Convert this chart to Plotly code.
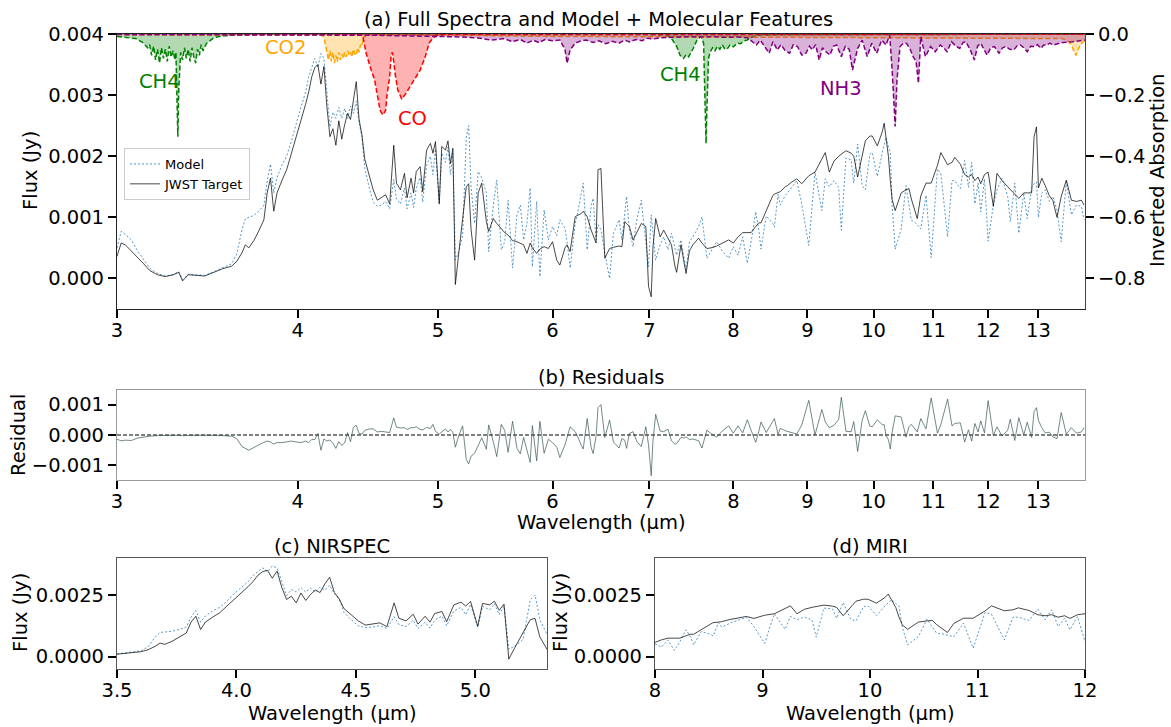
import math
import numpy as np
import plotly.graph_objects as go

# ---------------- data ----------------
wavelength = [
    3.00, 3.02, 3.04, 3.07, 3.10, 3.13, 3.16, 3.20, 3.24, 3.28,
    3.31, 3.33, 3.36, 3.40, 3.45, 3.50, 3.55, 3.60, 3.63, 3.66,
    3.68, 3.70, 3.73, 3.76, 3.79, 3.81, 3.83, 3.85, 3.87, 3.90,
    3.93, 3.96, 3.99, 4.02, 4.05, 4.07, 4.09, 4.11, 4.13, 4.15,
    4.17, 4.19, 4.21, 4.23, 4.25, 4.27, 4.29, 4.31, 4.33, 4.35,
    4.37, 4.39, 4.41, 4.43, 4.45, 4.48, 4.51, 4.54, 4.57, 4.60,
    4.63, 4.66, 4.68, 4.71, 4.74, 4.76, 4.79, 4.81, 4.83, 4.86,
    4.88, 4.91, 4.94, 4.96, 4.98, 5.01, 5.03, 5.06, 5.08, 5.10,
    5.12, 5.14, 5.17, 5.20, 5.23, 5.25, 5.27, 5.30,
    5.33, 5.36, 5.40, 5.42, 5.46, 5.49, 5.53, 5.56, 5.59, 5.63,
    5.67, 5.70, 5.73, 5.76, 5.79, 5.81, 5.85, 5.88, 5.92, 5.96,
    6.00, 6.04, 6.07, 6.12, 6.14, 6.17, 6.22, 6.24, 6.28, 6.30,
    6.34, 6.38, 6.40, 6.43, 6.45, 6.48, 6.52, 6.57, 6.61, 6.67,
    6.70, 6.73, 6.75, 6.78, 6.82, 6.86, 6.91, 6.96, 6.99, 7.02,
    7.04, 7.07, 7.12, 7.16, 7.21, 7.25, 7.29, 7.31, 7.36, 7.40,
    7.42, 7.46, 7.50, 7.57, 7.61, 7.67, 7.72, 7.79, 7.86, 7.94,
    8.00, 8.06, 8.12, 8.18, 8.23, 8.29, 8.33, 8.36, 8.43, 8.52,
    8.54, 8.59, 8.62, 8.69, 8.72, 8.77, 8.85, 8.92, 9.02, 9.11,
    9.21, 9.26, 9.32, 9.39, 9.46, 9.50, 9.57, 9.65, 9.69, 9.75,
    9.82, 9.87, 9.94, 9.98, 10.06, 10.14, 10.17, 10.20, 10.24, 10.27,
    10.30, 10.35, 10.45, 10.53, 10.58, 10.62, 10.68, 10.72, 10.78, 10.87,
    10.96, 11.07, 11.13, 11.25, 11.33, 11.38, 11.48, 11.56, 11.63, 11.69,
    11.75, 11.81, 11.86, 11.93, 12.00, 12.10, 12.17, 12.27, 12.38, 12.43,
    12.52, 12.60, 12.70, 12.77, 12.86, 12.91, 12.96, 13.00, 13.07, 13.14,
    13.23, 13.30, 13.39, 13.48, 13.59, 13.70, 13.81, 13.92, 13.98,
]

flux_target = [
    0.00036, 0.00058, 0.00055, 0.00045, 0.00035, 0.00024, 0.00013, 0.00006, 0.00003, 0.00006,
    0.00010, -0.00004, 0.00006, 0.00005, 0.00004, 0.00010, 0.00016, 0.00020, 0.00028, 0.00042,
    0.00055, 0.00050, 0.00062, 0.00078, 0.00096, 0.00140, 0.00164, 0.00110, 0.00140, 0.00160,
    0.00178, 0.00205, 0.00232, 0.00255, 0.00285, 0.00305, 0.00330, 0.00345, 0.00350, 0.00318,
    0.00347, 0.00280, 0.00232, 0.00245, 0.00218, 0.00258, 0.00228, 0.00252, 0.00270, 0.00260,
    0.00295, 0.00322, 0.00260, 0.00235, 0.00195, 0.00170, 0.00145, 0.00128, 0.00132, 0.00137,
    0.00122, 0.00218, 0.00156, 0.00145, 0.00172, 0.00132, 0.00164, 0.00140, 0.00175, 0.00183,
    0.00142, 0.00210, 0.00221, 0.00205, 0.00224, 0.00123, 0.00216, 0.00210, 0.00225, 0.00188,
    0.00213, -0.00010, 0.00045, 0.00100, 0.00150, 0.00155, 0.00080, 0.00030,
    0.00140, 0.00156, 0.00093, 0.00077, 0.00098, 0.00090, 0.00082, 0.00075, 0.00071, 0.00062,
    0.00060, 0.00058, 0.00055, 0.00041, 0.00058, 0.00050, 0.00041, 0.00048, 0.00052, 0.00049,
    0.00060, 0.00030, 0.00022, 0.00050, 0.00055, 0.00044, 0.00101, 0.00103, 0.00106, 0.00110,
    0.00101, 0.00079, 0.00070, 0.00058, 0.00178, 0.00180, 0.00033, 0.00049, 0.00051, 0.00053,
    0.00052, 0.00093, 0.00090, 0.00085, 0.00063, 0.00075, 0.00090, 0.00085, -0.00013, -0.00030,
    0.00052, 0.00098, 0.00068, 0.00079, 0.00066, 0.00055, 0.00020, 0.00010, 0.00055, 0.00020,
    0.00008, 0.00045, 0.00055, 0.00066, 0.00058, 0.00049, 0.00050, 0.00053, 0.00058, 0.00063,
    0.00058, 0.00068, 0.00075, 0.00075, 0.00075, 0.00085, 0.00091, 0.00091, 0.00110, 0.00136,
    0.00138, 0.00140, 0.00142, 0.00150, 0.00152, 0.00157, 0.00163, 0.00155, 0.00168, 0.00174,
    0.00195, 0.00206, 0.00174, 0.00192, 0.00200, 0.00203, 0.00209, 0.00205, 0.00200, 0.00166,
    0.00200, 0.00225, 0.00233, 0.00233, 0.00217, 0.00240, 0.00254, 0.00230, 0.00199, 0.00160,
    0.00129, 0.00111, 0.00140, 0.00145, 0.00147, 0.00130, 0.00110, 0.00098, 0.00135, 0.00156,
    0.00156, 0.00185, 0.00206, 0.00186, 0.00190, 0.00198, 0.00187, 0.00170, 0.00166, 0.00170,
    0.00160, 0.00166, 0.00155, 0.00170, 0.00174, 0.00118, 0.00172, 0.00160, 0.00150, 0.00145,
    0.00138, 0.00131, 0.00140, 0.00140, 0.00140, 0.00232, 0.00248, 0.00148, 0.00164, 0.00152,
    0.00135, 0.00128, 0.00100, 0.00134, 0.00161, 0.00128, 0.00126, 0.00128, 0.00120,
]

flux_model = [
    0.00050, 0.00077, 0.00072, 0.00063, 0.00045, 0.00030, 0.00017, 0.00008, 0.00004, 0.00006,
    0.00011, -0.00002, 0.00007, 0.00006, 0.00005, 0.00011, 0.00018, 0.00024, 0.00040, 0.00080,
    0.00098, 0.00100, 0.00103, 0.00110, 0.00120, 0.00160, 0.00187, 0.00140, 0.00165, 0.00185,
    0.00200, 0.00225, 0.00255, 0.00280, 0.00305, 0.00330, 0.00345, 0.00360, 0.00345, 0.00368,
    0.00360, 0.00300, 0.00248, 0.00272, 0.00262, 0.00280, 0.00262, 0.00278, 0.00262, 0.00282,
    0.00270, 0.00290, 0.00255, 0.00232, 0.00180, 0.00150, 0.00125, 0.00118, 0.00120, 0.00126,
    0.00114, 0.00162, 0.00130, 0.00122, 0.00148, 0.00114, 0.00140, 0.00116, 0.00148, 0.00165,
    0.00125, 0.00185, 0.00200, 0.00170, 0.00212, 0.00120, 0.00205, 0.00190, 0.00215, 0.00170,
    0.00205, 0.00030, 0.00045, 0.00070, 0.00230, 0.00250, 0.00150, 0.00090,
    0.00175, 0.00165, 0.00140, 0.00044, 0.00120, 0.00161, 0.00047, 0.00060, 0.00128, 0.00017,
    0.00104, 0.00120, 0.00063, 0.00090, 0.00148, 0.00019, 0.00126, 0.00003, 0.00112, 0.00063,
    0.00085, 0.00070, 0.00096, 0.00082, 0.00060, 0.00017, 0.00090, 0.00104, 0.00140, 0.00156,
    0.00047, 0.00120, 0.00131, 0.00063, 0.00088, 0.00080, 0.00041, 0.00000, 0.00074, 0.00096,
    0.00063, 0.00110, 0.00134, 0.00080, 0.00052, 0.00096, 0.00128, 0.00058, 0.00019, 0.00104,
    0.00070, 0.00030, 0.00055, 0.00068, 0.00047, 0.00074, 0.00050, 0.00038, 0.00063, 0.00030,
    0.00014, 0.00060, 0.00068, 0.00085, 0.00101, 0.00033, 0.00045, 0.00060, 0.00045, 0.00033,
    0.00052, 0.00038, 0.00068, 0.00025, 0.00060, 0.00109, 0.00080, 0.00048, 0.00102, 0.00090,
    0.00084, 0.00138, 0.00120, 0.00136, 0.00140, 0.00147, 0.00160, 0.00122, 0.00054, 0.00174,
    0.00111, 0.00163, 0.00150, 0.00160, 0.00149, 0.00079, 0.00197, 0.00194, 0.00156, 0.00220,
    0.00152, 0.00145, 0.00203, 0.00206, 0.00167, 0.00206, 0.00220, 0.00231, 0.00215, 0.00206,
    0.00120, 0.00048, 0.00081, 0.00152, 0.00120, 0.00095, 0.00092, 0.00088, 0.00081, 0.00136,
    0.00034, 0.00179, 0.00172, 0.00068, 0.00160, 0.00160, 0.00147, 0.00193, 0.00149, 0.00190,
    0.00122, 0.00156, 0.00109, 0.00163, 0.00061, 0.00120, 0.00145, 0.00164, 0.00134, 0.00093,
    0.00156, 0.00074, 0.00140, 0.00098, 0.00148, 0.00155, 0.00158, 0.00100, 0.00140, 0.00145,
    0.00126, 0.00134, 0.00112, 0.00060, 0.00158, 0.00104, 0.00120, 0.00118, 0.00096,
]

# Molecular features (inverted absorption, right axis)
ch4_wl = [3.00, 3.03, 3.06, 3.09, 3.11, 3.13, 3.15, 3.16, 3.17, 3.18,
          3.19, 3.20, 3.21, 3.22, 3.23, 3.24, 3.25, 3.26, 3.27, 3.28,
          3.29, 3.295, 3.30, 3.305, 3.31, 3.32, 3.33, 3.34, 3.35, 3.36,
          3.37, 3.38, 3.39, 3.40, 3.41, 3.42, 3.43, 3.44, 3.46, 3.48,
          3.50, 3.53, 3.57, 3.62, 3.70, 4.00, 5.00, 6.00, 7.00, 7.20,
          7.25, 7.31, 7.35, 7.39, 7.42, 7.45, 7.50, 7.55, 7.60, 7.63,
          7.65, 7.66, 7.67, 7.69, 7.71, 7.74, 7.77, 7.80, 7.83, 7.86,
          7.89, 7.92, 7.96, 8.00, 8.05, 8.09, 8.14, 8.18, 8.22, 8.26,
          8.35, 9.00, 10.0, 12.0, 14.0]
ch4_abs = [-0.008, -0.010, -0.012, -0.015, -0.022, -0.030, -0.045, -0.035, -0.070, -0.040,
           -0.085, -0.050, -0.095, -0.045, -0.080, -0.050, -0.090, -0.040, -0.075, -0.055,
           -0.085, -0.060, -0.200, -0.336, -0.180, -0.060, -0.085, -0.045, -0.080, -0.050,
           -0.090, -0.045, -0.075, -0.095, -0.050, -0.070, -0.035, -0.055, -0.030, -0.020,
           -0.012, -0.008, -0.005, -0.003, -0.002, -0.001, -0.001, -0.001, -0.002, -0.004,
           -0.015, -0.040, -0.070, -0.080, -0.068, -0.075, -0.050, -0.020, -0.008, -0.030,
           -0.200, -0.358, -0.250, -0.080, -0.060, -0.045, -0.055, -0.040, -0.050, -0.035,
           -0.048, -0.050, -0.035, -0.042, -0.030, -0.032, -0.022, -0.020, -0.012, -0.008,
           -0.003, -0.002, -0.002, -0.001, -0.001]

co2_wl = [3.00, 4.00, 4.15, 4.17, 4.18, 4.19, 4.20, 4.21, 4.22, 4.23,
          4.24, 4.25, 4.26, 4.27, 4.28, 4.29, 4.30, 4.31, 4.32, 4.33,
          4.34, 4.35, 4.36, 4.37, 4.38, 4.39, 4.40, 4.41, 4.42, 4.43,
          4.44, 4.46, 5.00, 5.50, 6.00, 8.00, 10.0, 12.0, 13.0, 13.5,
          13.6, 13.7, 13.75, 13.8, 13.85, 13.9, 14.0]
co2_abs = [-0.002, -0.002, -0.003, -0.010, -0.040, -0.065, -0.085, -0.055, -0.090, -0.060,
           -0.095, -0.070, -0.090, -0.060, -0.085, -0.065, -0.080, -0.060, -0.075, -0.055,
           -0.070, -0.060, -0.075, -0.050, -0.065, -0.070, -0.045, -0.060, -0.035, -0.040,
           -0.015, -0.003, -0.003, -0.006, -0.008, -0.010, -0.012, -0.013, -0.014, -0.015,
           -0.020, -0.035, -0.055, -0.070, -0.050, -0.035, -0.020]

co_wl = [3.00, 4.00, 4.40, 4.435, 4.46, 4.49, 4.52, 4.54, 4.56, 4.58,
         4.60, 4.61, 4.63, 4.64, 4.65, 4.66, 4.67, 4.69, 4.72, 4.75,
         4.78, 4.82, 4.86, 4.90, 4.93, 4.96, 4.99, 5.05, 6.00, 8.00,
         10.0, 14.0]
co_abs = [-0.001, -0.001, -0.002, -0.005, -0.063, -0.110, -0.150, -0.200, -0.250, -0.265,
          -0.250, -0.200, -0.140, -0.074, -0.060, -0.090, -0.130, -0.183, -0.213, -0.195,
          -0.174, -0.150, -0.118, -0.074, -0.030, -0.013, -0.005, -0.002, -0.002, -0.003,
          -0.002, -0.001]

nh3_wl = [3.00, 4.00, 4.50, 5.00, 5.20, 5.35, 5.45, 5.55, 5.63, 5.70,
          5.76, 5.82, 5.87, 5.93, 6.00, 6.07, 6.12, 6.14, 6.17, 6.22,
          6.28, 6.33, 6.40, 6.46, 6.53, 6.60, 6.67, 6.73, 6.78, 6.85,
          6.92, 6.97, 7.05, 7.12, 7.19, 7.30, 7.45, 7.60, 7.75, 7.90,
          8.05, 8.18, 8.24, 8.30, 8.35, 8.41, 8.47, 8.52, 8.58, 8.63,
          8.69, 8.75, 8.80, 8.86, 8.92, 8.98, 9.03, 9.07, 9.12, 9.17,
          9.22, 9.27, 9.33, 9.38, 9.43, 9.50, 9.56, 9.62, 9.67, 9.75,
          9.82, 9.90, 9.97, 10.05, 10.13, 10.20, 10.26, 10.30, 10.35, 10.38,
          10.43, 10.49, 10.54, 10.60, 10.65, 10.70, 10.74, 10.78, 10.86, 10.95,
          11.03, 11.12, 11.18, 11.24, 11.32, 11.40, 11.47, 11.53, 11.58, 11.66,
          11.74, 11.80, 11.86, 11.92, 11.98, 12.05, 12.12, 12.21, 12.28, 12.34,
          12.42, 12.50, 12.57, 12.63, 12.70, 12.77, 12.84, 12.91, 12.98, 13.05,
          13.11, 13.17, 13.24, 13.31, 13.38, 13.45, 13.52, 13.59, 13.66, 13.73,
          13.82, 13.92, 14.00]
nh3_abs = [-0.002, -0.002, -0.004, -0.008, -0.010, -0.014, -0.020, -0.015, -0.025, -0.018,
           -0.030, -0.020, -0.028, -0.018, -0.022, -0.020, -0.050, -0.096, -0.052, -0.030,
           -0.022, -0.020, -0.028, -0.022, -0.032, -0.024, -0.030, -0.020, -0.026, -0.018,
           -0.022, -0.014, -0.016, -0.012, -0.011, -0.010, -0.009, -0.010, -0.009, -0.011,
           -0.010, -0.012, -0.025, -0.036, -0.020, -0.040, -0.063, -0.025, -0.052, -0.035,
           -0.055, -0.063, -0.035, -0.041, -0.069, -0.063, -0.040, -0.052, -0.035, -0.085,
           -0.045, -0.058, -0.069, -0.040, -0.036, -0.074, -0.041, -0.050, -0.118, -0.047,
           -0.020, -0.074, -0.030, -0.063, -0.020, -0.036, -0.003, -0.118, -0.303, -0.150,
           -0.041, -0.030, -0.031, -0.050, -0.074, -0.090, -0.161, -0.009, -0.074, -0.041,
           -0.058, -0.036, -0.045, -0.058, -0.025, -0.040, -0.047, -0.028, -0.025, -0.050,
           -0.085, -0.040, -0.030, -0.050, -0.069, -0.045, -0.041, -0.063, -0.045, -0.041,
           -0.050, -0.052, -0.038, -0.036, -0.045, -0.058, -0.040, -0.041, -0.035, -0.047,
           -0.036, -0.036, -0.030, -0.036, -0.032, -0.030, -0.028, -0.028, -0.026, -0.025,
           -0.024, -0.022, -0.020]

molecule_names = ["CH4", "CO2", "CO", "NH3"]
molecule_colors = ["green", "orange", "red", "purple"]
molecule_fills = ["rgba(0,128,0,0.3)", "rgba(255,165,0,0.3)",
                  "rgba(255,0,0,0.3)", "rgba(128,0,128,0.3)"]
# label positions (wavelength, inverted absorption)
label_text = ["CH4", "CO2", "CO", "CH4", "NH3"]
label_wl = [3.21, 3.92, 4.80, 7.35, 9.50]
label_val = [-0.157, -0.043, -0.275, -0.134, -0.177]
label_colors = ["green", "orange", "red", "green", "purple"]

x_ticks_main = [3, 4, 5, 6, 7, 8, 9, 10, 11, 12, 13]

for a, b in [(wavelength, flux_target), (wavelength, flux_model), (ch4_wl, ch4_abs),
             (co2_wl, co2_abs), (co_wl, co_abs), (nh3_wl, nh3_abs)]:
    assert len(a) == len(b), (len(a), len(b))

# ---------------- figure ----------------
W, H = 1171, 727
FONT = "DejaVu Sans"
FS = 19.5

def px(x):
    return x / W

def py(y):
    return 1 - y / H

target = np.array(flux_target)
model = np.array(flux_model)
residual = target - model

fig = go.Figure()

mol_data = [(ch4_wl, ch4_abs), (co2_wl, co2_abs), (co_wl, co_abs), (nh3_wl, nh3_abs)]

MODEL_LINE = dict(color="rgba(31,119,180,0.75)", width=1, dash="2px,2px")
TARGET_LINE = dict(color="rgba(0,0,0,0.8)", width=0.9)

# spectra panel (a)
fig.add_trace(go.Scatter(x=wavelength, y=flux_model, xaxis="x", yaxis="y", mode="lines",
                         name="Model", line=MODEL_LINE))
fig.add_trace(go.Scatter(x=wavelength, y=flux_target, xaxis="x", yaxis="y", mode="lines",
                         name="JWST Target", line=TARGET_LINE))

for (wls, vals), c, f, n in zip(mol_data, molecule_colors, molecule_fills, molecule_names):
    fig.add_trace(go.Scatter(x=wls, y=vals, xaxis="x", yaxis="y2", mode="lines", name=n,
                             line=dict(color=c, width=1.5, dash="5px,2.5px"),
                             fill="tozeroy", fillcolor=f, showlegend=False))

# residuals (b)
fig.add_trace(go.Scatter(x=wavelength, y=residual, xaxis="x2", yaxis="y3", mode="lines",
                         line=dict(color="rgba(47,79,79,0.75)", width=0.9), showlegend=False))

# NIRSPEC (c) and MIRI (d)
for xa, ya in [("x3", "y4"), ("x4", "y5")]:
    fig.add_trace(go.Scatter(x=wavelength, y=flux_model, xaxis=xa, yaxis=ya, mode="lines",
                             line=MODEL_LINE, showlegend=False))
    fig.add_trace(go.Scatter(x=wavelength, y=flux_target, xaxis=xa, yaxis=ya, mode="lines",
                             line=TARGET_LINE, showlegend=False))

tickfont = dict(family=FONT, size=FS, color="black")

def axis_common(linecolor, standoff=0):
    return dict(showgrid=False, zeroline=False, showline=True, mirror=True,
                linecolor=linecolor, linewidth=1.2, ticks="outside", ticklen=8,
                tickwidth=2.2, tickcolor="black", tickfont=tickfont, automargin=False,
                ticklabelstandoff=standoff)

XSO = -5
xa_dom = [px(117), px(1085)]
ya_dom = [py(309), py(34)]
yb_dom = [py(480), py(390)]
ycd_dom = [py(669), py(558)]

log_range = [math.log10(3), math.log10(14)]
xt_text = [str(v) for v in x_ticks_main]

fig.update_layout(
    width=W, height=H,
    margin=dict(l=0, r=0, t=0, b=0, autoexpand=False),
    paper_bgcolor="white", plot_bgcolor="white",
    font=dict(family=FONT, size=FS, color="black"),
    showlegend=True,
    legend=dict(x=px(124), y=py(148), xanchor="left", yanchor="top",
                bgcolor="white", bordercolor="#cccccc", borderwidth=1,
                font=dict(family=FONT, size=13, color="black"),
                tracegroupgap=0, itemwidth=30),
    xaxis=dict(domain=xa_dom, anchor="y", type="log", range=log_range,
               tickmode="array", tickvals=x_ticks_main, ticktext=xt_text,
               **axis_common("#222222", XSO)),
    yaxis=dict(domain=ya_dom, anchor="x", range=[-0.0005, 0.004],
               tickmode="array", tickvals=[0, 0.001, 0.002, 0.003, 0.004],
               ticktext=["0.000", "0.001", "0.002", "0.003", "0.004"],
               **axis_common("#222222")),
    yaxis2=dict(overlaying="y", side="right", anchor="x", range=[-0.9, 0.0],
                tickmode="array", tickvals=[0, -0.2, -0.4, -0.6, -0.8],
                ticktext=["0.0", "\u22120.2", "\u22120.4", "\u22120.6", "\u22120.8"],
                showgrid=False, zeroline=False, showline=True, linecolor="#444444",
                linewidth=1.2, ticks="outside", ticklen=8, tickwidth=2.2,
                tickcolor="black", tickfont=tickfont, automargin=False),
    xaxis2=dict(domain=xa_dom, anchor="y3", type="log", range=log_range,
                tickmode="array", tickvals=x_ticks_main, ticktext=xt_text,
                **axis_common("#999999", XSO)),
    yaxis3=dict(domain=yb_dom, anchor="x2", range=[-0.00148, 0.00148],
                tickmode="array", tickvals=[-0.001, 0, 0.001],
                ticktext=["\u22120.001", "0.000", "0.001"],
                **axis_common("#999999")),
    xaxis3=dict(domain=[px(117), px(547)], anchor="y4", range=[3.5, 5.3],
                tickmode="array", tickvals=[3.5, 4.0, 4.5, 5.0],
                ticktext=["3.5", "4.0", "4.5", "5.0"], **axis_common("#555555", XSO)),
    yaxis4=dict(domain=ycd_dom, anchor="x3", range=[-0.0005, 0.004],
                tickmode="array", tickvals=[0, 0.0025], ticktext=["0.0000", "0.0025"],
                **axis_common("#555555")),
    xaxis4=dict(domain=[px(655), px(1085)], anchor="y5", range=[8, 12],
                tickmode="array", tickvals=[8, 9, 10, 11, 12],
                ticktext=["8", "9", "10", "11", "12"], **axis_common("#555555", XSO)),
    yaxis5=dict(domain=ycd_dom, anchor="x4", range=[-0.0005, 0.004],
                tickmode="array", tickvals=[0, 0.0025], ticktext=["0.0000", "0.0025"],
                **axis_common("#555555")),
)

# zero line in residual panel
fig.add_shape(type="line", xref="x2 domain", x0=0, x1=1, yref="y3", y0=0, y1=0,
              line=dict(color="black", width=1, dash="4px,2px"), layer="below")

def ann(text, x, y, size=FS, angle=0, color="black"):
    fig.add_annotation(text=text, x=px(x), y=py(y), xref="paper", yref="paper",
                       showarrow=False, textangle=angle, xanchor="center", yanchor="middle",
                       font=dict(family=FONT, size=size, color=color))

ann("(a) Full Spectra and Model + Molecular Features", 598, 19)
ann("Flux (Jy)", 30, 171, angle=-90)
ann("Inverted Absorption", 1157, 171, angle=-90)
ann("(b) Residuals", 601, 377)
ann("Residual", 18, 435, angle=-90)
ann("Wavelength (µm)", 601, 522)
ann("(c) NIRSPEC", 332, 546)
ann("Flux (Jy)", 20, 613, angle=-90)
ann("Wavelength (µm)", 332, 713)
ann("(d) MIRI", 870, 546)
ann("Flux (Jy)", 560, 613, angle=-90)
ann("Wavelength (µm)", 870, 713)

for t, w, v, c in zip(label_text, label_wl, label_val, label_colors):
    fig.add_annotation(text=t, x=math.log10(w), y=v, xref="x", yref="y2", showarrow=False,
                       font=dict(family=FONT, size=FS, color=c))

fig.write_html("out.html")
